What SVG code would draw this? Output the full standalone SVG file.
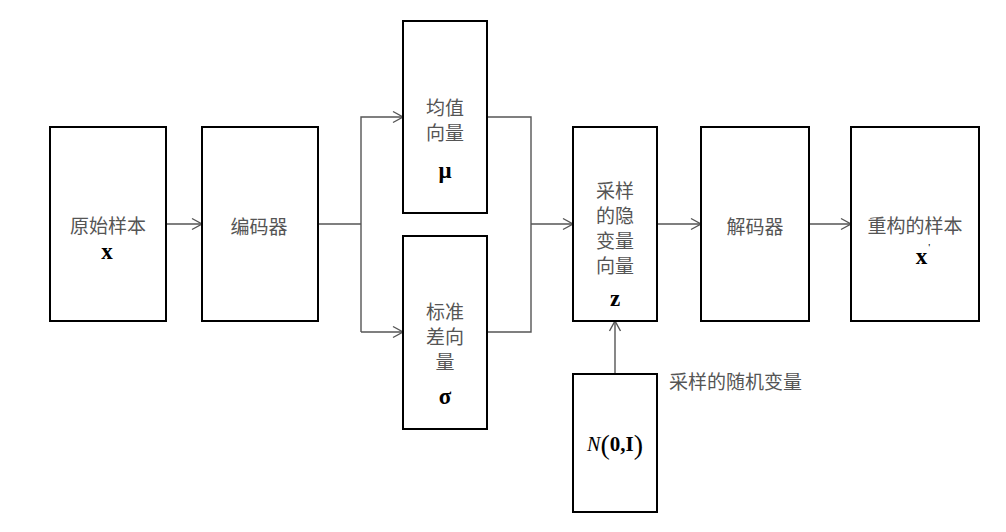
<svg xmlns="http://www.w3.org/2000/svg" width="1006" height="532" viewBox="0 0 1006 532">
<defs>
<style>
.box{fill:#fff;stroke:#000;stroke-width:2}
.cn{font-family:"Noto Sans CJK SC","Noto Sans",sans-serif;font-size:19px;fill:#555;text-anchor:middle;dominant-baseline:central}
.m{font-family:"Liberation Serif",serif;font-size:23px;font-weight:bold;fill:#000;text-anchor:middle;dominant-baseline:central}
.ln{fill:none;stroke:#555;stroke-width:1.4}
</style>
<marker id="ah" markerUnits="userSpaceOnUse" markerWidth="14" markerHeight="14" viewBox="0 0 14 14" refX="12" refY="7" orient="auto">
<path d="M2,1.5 L12,7 L2,12.5" fill="none" stroke="#555" stroke-width="1.4"/>
</marker>
</defs>
<rect width="1006" height="532" fill="#fff"/>
<g id="connectors">
<line class="ln" x1="166" y1="224" x2="202" y2="224" marker-end="url(#ah)"/>
<polyline class="ln" points="318,224 361,224"/>
<polyline class="ln" points="361,332 361,117 403,117" marker-end="url(#ah)"/>
<line class="ln" x1="361" y1="332" x2="403" y2="332" marker-end="url(#ah)"/>
<polyline class="ln" points="487,117 531,117 531,332 487,332"/>
<line class="ln" x1="531" y1="224" x2="573" y2="224" marker-end="url(#ah)"/>
<line class="ln" x1="657" y1="224" x2="701" y2="224" marker-end="url(#ah)"/>
<line class="ln" x1="809" y1="224" x2="851" y2="224" marker-end="url(#ah)"/>
<line class="ln" x1="615" y1="374" x2="615" y2="321" marker-end="url(#ah)"/>
</g>
<g id="input">
<rect class="box" x="50" y="127" width="116" height="194"/>
<text class="cn" x="108" y="224">原始样本</text>
<text class="m" x="107" y="251">x</text>
</g>
<g id="encoder">
<rect class="box" x="202" y="127" width="116" height="194"/>
<text class="cn" x="259" y="225">编码器</text>
</g>
<g id="mean">
<rect class="box" x="403" y="21" width="84" height="192"/>
<text class="cn" x="445" y="106">均值</text>
<text class="cn" x="445" y="131">向量</text>
<text class="m" x="445" y="170">μ</text>
</g>
<g id="std">
<rect class="box" x="403" y="236" width="84" height="193"/>
<text class="cn" x="445" y="310">标准</text>
<text class="cn" x="445" y="335">差向</text>
<text class="cn" x="445" y="360">量</text>
<text class="m" x="445" y="396">σ</text>
</g>
<g id="latent">
<rect class="box" x="573" y="127" width="84" height="194"/>
<text class="cn" x="615" y="189">采样</text>
<text class="cn" x="615" y="214">的隐</text>
<text class="cn" x="615" y="239">变量</text>
<text class="cn" x="615" y="264">向量</text>
<text class="m" x="615" y="298">z</text>
</g>
<g id="noise">
<rect class="box" x="573" y="374" width="84" height="138"/>
<text class="m" x="615" y="444" style="font-weight:normal"><tspan font-style="italic" font-size="20">N</tspan><tspan font-size="28">(</tspan><tspan font-weight="bold" font-size="21">0,I</tspan><tspan font-size="28">)</tspan></text>
</g>
<g id="noise-label">
<text class="cn" x="669" y="380" style="text-anchor:start">采样的随机变量</text>
</g>
<g id="decoder">
<rect class="box" x="701" y="127" width="108" height="194"/>
<text class="cn" x="755" y="225">解码器</text>
</g>
<g id="output">
<rect class="box" x="851" y="127" width="128" height="194"/>
<text class="cn" x="915" y="224">重构的样本</text>
<text class="m" x="923" y="256">x<tspan font-size="11" font-weight="normal" dx="1" dy="-9">'</tspan></text>
</g>
</svg>
